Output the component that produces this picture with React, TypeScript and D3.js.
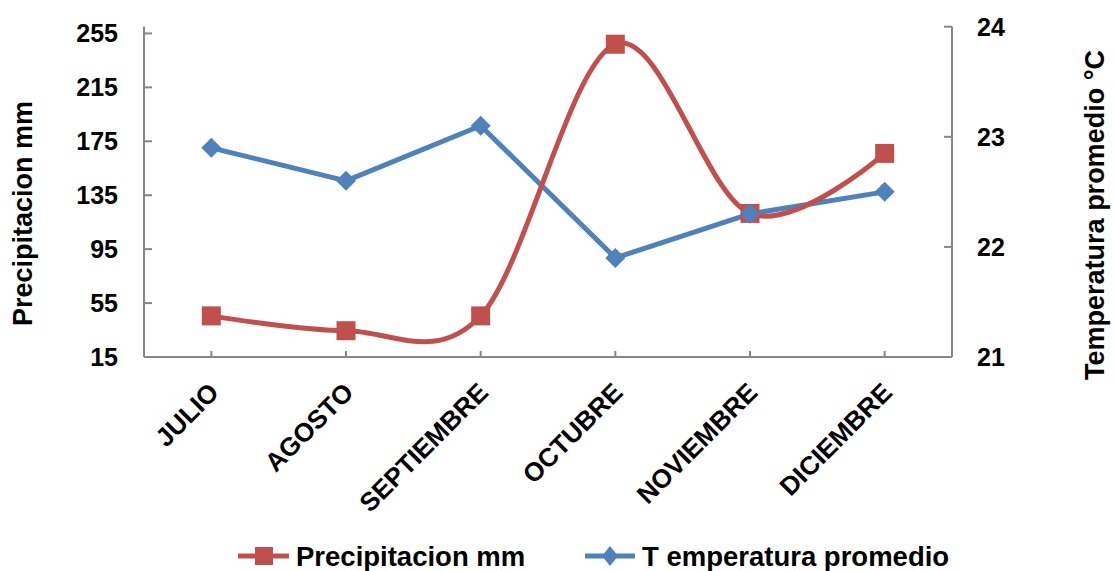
import React from "react";
import * as d3 from "d3";

const categories = ["JULIO", "AGOSTO", "SEPTIEMBRE", "OCTUBRE", "NOVIEMBRE", "DICIEMBRE"];
const precipitacion = [45.5, 34.5, 45.5, 247, 121.5, 166];
const temperatura = [22.9, 22.6, 23.1, 21.9, 22.3, 22.5];
const leftTicks = [15, 55, 95, 135, 175, 215, 255];
const rightTicks = [21, 22, 23, 24];
const seriesNames = ["Precipitacion mm", "T emperatura promedio"];

const RED = "#C0504D";
const BLUE = "#4F81BD";
const AXIS = "#868686";
const FONT = "'Liberation Sans', Arial, sans-serif";

export default function App() {
  const left = 144, right = 952, top = 26.7, bottom = 357;
  const x = d3.scaleBand<string>().domain(categories).range([left, right]);
  const cx = (c: string) => (x(c) as number) + x.bandwidth() / 2;
  const yL = d3.scaleLinear().domain([15, 260]).range([bottom, top]);
  const yR = d3.scaleLinear().domain([21, 24]).range([bottom, top]);

  const precipLine = d3
    .line<number>()
    .x((_, i) => cx(categories[i]))
    .y((d) => yL(d))
    .curve(d3.curveCatmullRom.alpha(0));
  const tempLine = d3
    .line<number>()
    .x((_, i) => cx(categories[i]))
    .y((d) => yR(d));

  const sq = 19;
  const dm = 10;
  const diamond = (px: number, py: number, w = dm, h = dm) =>
    `M${px},${py - h}L${px + w},${py}L${px},${py + h}L${px - w},${py}Z`;

  const legY = 556;

  return (
    <svg
      width={1114}
      height={571}
      style={{ position: "absolute", left: 0, top: 0, background: "#fff" }}
      fontFamily={FONT}
      fontWeight="bold"
    >
      <rect width={1114} height={571} fill="#fff" />
      {/* axes */}
      <line x1={left} x2={left} y1={top} y2={bottom} stroke={AXIS} strokeWidth={2} />
      <line x1={right} x2={right} y1={top} y2={bottom} stroke={AXIS} strokeWidth={2} />
      <line x1={left} x2={right} y1={bottom} y2={bottom} stroke={AXIS} strokeWidth={2} />
      {leftTicks.map((t) => (
        <g key={"l" + t}>
          <line x1={left} x2={left + 8} y1={yL(t)} y2={yL(t)} stroke={AXIS} strokeWidth={2} />
          <text x={118} y={yL(t)} dy="0.36em" textAnchor="end" fontSize={25} fill="#000">
            {t}
          </text>
        </g>
      ))}
      {rightTicks.map((t) => (
        <g key={"r" + t}>
          <line x1={right - 8} x2={right} y1={yR(t)} y2={yR(t)} stroke={AXIS} strokeWidth={2} />
          <text x={977} y={yR(t)} dy="0.36em" textAnchor="start" fontSize={25} fill="#000">
            {t}
          </text>
        </g>
      ))}
      {categories.map((c) => (
        <g key={c}>
          <line x1={cx(c)} x2={cx(c)} y1={bottom} y2={bottom - 6} stroke={AXIS} strokeWidth={2} />
          <text
            transform={`translate(${cx(c) + 9},${bottom + 37}) rotate(-45)`}
            textAnchor="end"
            fontSize={26}
            fill="#000"
          >
            {c}
          </text>
        </g>
      ))}
      {/* axis titles */}
      <text
        transform={`translate(32,213.5) rotate(-90)`}
        textAnchor="middle"
        fontSize={27}
        fill="#000"
      >
        Precipitacion mm
      </text>
      <text
        transform={`translate(1104,215) rotate(-90)`}
        textAnchor="middle"
        fontSize={27}
        fill="#000"
      >
        Temperatura promedio °C
      </text>
      {/* series */}
      <path d={tempLine(temperatura) || ""} fill="none" stroke={BLUE} strokeWidth={5} strokeLinejoin="round" />
      <path d={precipLine(precipitacion) || ""} fill="none" stroke={RED} strokeWidth={5} />
      {precipitacion.map((v, i) => (
        <rect
          key={"p" + i}
          x={cx(categories[i]) - sq / 2}
          y={yL(v) - sq / 2}
          width={sq}
          height={sq}
          fill={RED}
        />
      ))}
      {temperatura.map((v, i) => (
        <path key={"t" + i} d={diamond(cx(categories[i]), yR(v))} fill={BLUE} />
      ))}
      {/* legend */}
      <g>
        <line x1={238} x2={289} y1={legY} y2={legY} stroke={RED} strokeWidth={5} />
        <rect x={264 - 9} y={legY - 9} width={18} height={18} fill={RED} />
        <text x={296} y={legY} dy="0.36em" fontSize={27.5} fill="#000">
          {seriesNames[0]}
        </text>
        <line x1={585} x2={635} y1={legY} y2={legY} stroke={BLUE} strokeWidth={5} />
        <path d={diamond(610, legY, 8, 10)} fill={BLUE} />
        <text x={642} y={legY} dy="0.36em" fontSize={27.5} fill="#000">
          {seriesNames[1]}
        </text>
      </g>
    </svg>
  );
}
